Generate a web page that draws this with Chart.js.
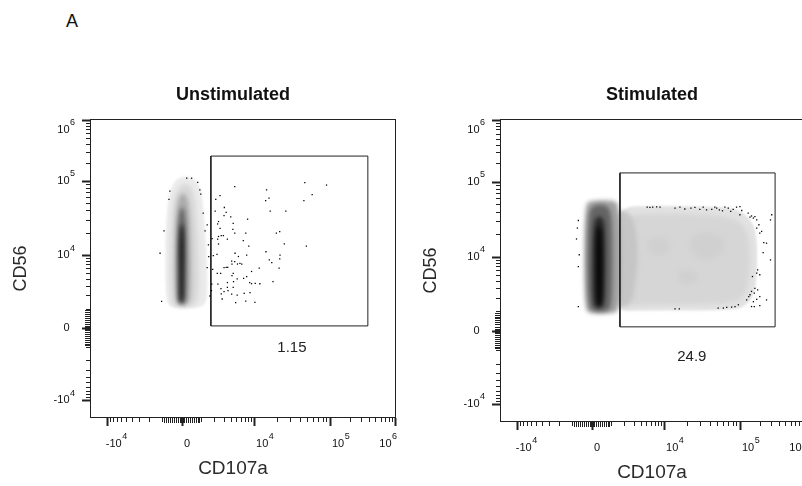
<!DOCTYPE html>
<html>
<head>
<meta charset="utf-8">
<script src="https://cdn.jsdelivr.net/npm/chart.js@4.4.1/dist/chart.umd.min.js"></script>
<style>
  html, body { margin: 0; padding: 0; background: #fff; }
  body { width: 802px; height: 486px; overflow: hidden; position: relative; font-family: "Liberation Sans", Arial, sans-serif; }
  canvas { position: absolute; top: 0; }
  #panelLabel { position: absolute; left: 66px; top: 11px; font-size: 18px; color: #111; }
</style>
</head>
<body>
<div id="panelLabel">A</div>
<canvas id="unstim" width="466" height="486" style="left:0"></canvas>
<canvas id="stim" width="480" height="486" style="left:412px"></canvas>
<script>
// Decade labels and the display channel (0-1000) each one sits at
const decadeValues = [-1e4, 0, 1e4, 1e5, 1e6];
const decadeBase = ['-10', '0', '10', '10', '10'];
const decadeExp = ['4', '', '4', '5', '6'];
const xDecadeChannels = [57, 301, 536, 784, 997];
const yDecadeChannels = [60, 301, 545, 793, 997];

// Single events drawn as dots, [CD107a, CD56] in display channels
const unstimEvents = [
  [316,802],[332,802],[352,788],[359,763],[261,759],[362,749],[258,731],[370,685],[242,626],[376,626],
  [229,551],[234,390],[383,646],[387,579],[383,503],[388,540],
  [473,774],[425,744],[411,731],[577,763],[585,735],[574,727],[702,787],[773,779],[726,747],[699,727],
  [409,692],[439,704],[445,688],[438,677],[460,673],[515,665],[589,692],[640,692],[420,657],[417,649],
  [468,651],[425,634],[467,631],[473,618],[509,618],[609,618],[620,623],[429,610],[420,607],[436,610],
  [449,598],[417,598],[399,600],[420,582],[501,593],[519,575],[635,582],[707,575],[403,543],[415,547],
  [474,551],[512,545],[485,540],[575,556],[621,545],[586,529],[594,520],[620,532],[463,525],[464,515],
  [473,523],[482,515],[490,517],[496,515],[445,504],[438,503],[450,504],[401,497],[416,484],[427,484],
  [468,484],[502,467],[512,473],[464,476],[553,501],[618,501],[528,490],[398,448],[418,448],[449,453],
  [469,456],[481,465],[522,453],[528,449],[540,450],[555,449],[598,456],[428,433],[449,437],[468,437],
  [438,423],[429,415],[451,426],[463,414],[481,411],[504,417],[523,419],[476,386],[509,391],[539,387],
  [432,398],[392,408],[397,426]
];
const stimEvents = [
  [481,709],[490,708],[499,709],[512,710],[523,709],[572,706],[588,709],[604,703],[624,706],[637,708],
  [653,702],[664,709],[675,700],[692,702],[702,709],[708,706],[717,700],[727,697],[735,709],[746,706],
  [754,695],[762,702],[773,709],[784,711],[790,698],
  [784,684],[811,689],[817,676],[822,680],[828,673],[833,678],[839,667],[846,651],[839,640],[855,629],
  [849,623],[862,592],[871,590],[860,559],[884,535],[888,684],[884,667],[842,502],[839,491],[849,486],
  [825,480],[833,441],[842,436],[822,431],[831,425],[817,420],[849,414],[839,405],[813,414],[806,403],
  [828,397],[849,384],[871,403],[822,381],[831,381],
  [572,373],[586,373],[713,376],[730,376],[741,378],[757,379],[768,381],[779,387],
  [256,665],[253,640],[250,604],[259,552],[256,513],[256,381]
];

// Rectangle gates [x1, y1, x2, y2] and the percentage shown under each
const unstimGate = [395, 308, 908, 876];
const stimGate = [392, 314, 899, 822];
const unstimFreq = '1.15';
const stimFreq = '24.9';

// Density contours (outer to inner) and the relative density of each band
const unstimContours = [
  [[305,809],[332,805],[354,787],[365,752],[372,685],[379,584],[383,495],[383,417],[379,386],[365,370],
   [305,366],[264,370],[250,389],[246,473],[246,584],[250,685],[259,752],[278,796]],
  [[303,785],[327,779],[340,752],[348,685],[354,584],[357,473],[354,395],[338,375],[299,370],[272,375],
   [264,395],[261,495],[264,607],[269,696],[281,757]],
  [[301,752],[316,746],[325,696],[329,607],[331,495],[329,395],[316,378],[294,376],[281,389],[278,495],
   [279,607],[283,696],[290,740]],
  [[299,707],[309,696],[314,629],[315,529],[314,395],[305,381],[292,384],[286,395],[285,529],[287,629],
   [292,690]],
  [[299,651],[305,640],[307,573],[306,484],[305,389],[298,386],[293,395],[293,484],[292,573],[295,634]]
];
const unstimLevels = [0.04, 0.12, 0.31, 0.6, 0.93];

const stimContours = [
  [[359,711],[523,713],[686,711],[762,706],[806,684],[833,645],[841,579],[839,469],[828,414],[800,381],
   [762,370],[632,368],[468,368],[359,365]],
  [[381,684],[523,689],[686,684],[773,673],[811,629],[819,535],[811,436],[773,392],[632,387],[468,387],
   [381,383]],
  [[370,700],[430,695],[452,590],[446,480],[430,381],[370,376]],
  [[626,617],[686,629],[730,607],[735,563],[697,535],[642,541],[615,574]],
  [[485,607],[539,612],[561,585],[544,551],[501,546],[479,574]],
  [[577,497],[626,502],[653,480],[632,458],[588,456]],
  [[294,731],[370,733],[390,717],[394,535],[390,370],[370,357],[294,357],[278,370],[274,535],[278,717]],
  [[305,717],[348,717],[365,689],[368,535],[365,381],[348,365],[305,365],[289,381],[285,535],[289,689]],
  [[314,678],[335,678],[343,645],[344,535],[342,392],[332,376],[314,376],[303,392],[302,535],[305,645]],
  [[319,645],[331,645],[334,535],[333,392],[324,381],[316,392],[314,535],[315,623]]
];
const stimLevels = [0.08, 0.13, 0.2, 0.155, 0.155, 0.155, 0.35, 0.6, 0.85, 1.0];

// biexponential-style placement of minor ticks between the labelled decades
const COFACTOR = 1250;
function toChannel(v, chans) {
  const ts = decadeValues.map(d => Math.asinh(d / COFACTOR));
  const t = Math.asinh(v / COFACTOR);
  let i = 0;
  while (i < ts.length - 2 && t > ts[i + 1]) i++;
  const f = (t - ts[i]) / (ts[i + 1] - ts[i]);
  return chans[i] + f * (chans[i + 1] - chans[i]);
}

const minorTicks = [];
for (let d = 1; d <= 5; d++) {
  for (let k = 1; k <= 9; k++) {
    const v = k * Math.pow(10, d);
    if (!decadeValues.includes(v)) minorTicks.push(v);
    if (-v > -1e4) minorTicks.push(-v);
  }
}

function greyFor(d) {
  const g = Math.round(245 - 240 * d);
  return `rgb(${g},${g},${g})`;
}

const FONT = '"Liberation Sans", Arial, sans-serif';
const plots = {};

function smoothPath(ctx, pts) {
  const n = pts.length;
  const mid = (a, b) => [(a[0] + b[0]) / 2, (a[1] + b[1]) / 2];
  const start = mid(pts[n - 1], pts[0]);
  ctx.moveTo(start[0], start[1]);
  for (let i = 0; i < n; i++) {
    const m = mid(pts[i], pts[(i + 1) % n]);
    ctx.quadraticCurveTo(pts[i][0], pts[i][1], m[0], m[1]);
  }
  ctx.closePath();
}

const flowPlot = {
  id: 'flowPlot',
  beforeDatasetsDraw(chart) {
    const spec = plots[chart.canvas.id];
    const { ctx, chartArea: a, scales: { x, y } } = chart;
    ctx.save();
    ctx.beginPath();
    ctx.rect(a.left, a.top, a.width, a.height);
    ctx.clip();
    spec.contours.forEach((path, i) => {
      const pts = path.map(([vx, vy]) => [x.getPixelForValue(vx), y.getPixelForValue(vy)]);
      ctx.filter = i === 0 ? 'blur(1px)' : 'blur(2px)';
      ctx.fillStyle = greyFor(spec.levels[i]);
      ctx.beginPath();
      smoothPath(ctx, pts);
      ctx.fill();
    });
    ctx.restore();
  },
  afterDraw(chart) {
    const spec = plots[chart.canvas.id];
    const { ctx, chartArea: a, scales: { x, y } } = chart;
    ctx.save();
    ctx.strokeStyle = '#222';
    ctx.fillStyle = '#111';

    // frame
    ctx.lineWidth = 1;
    ctx.strokeRect(a.left + 0.5, a.top + 0.5, a.width - 1, a.height - 1);

    // ticks
    const tickLen = v => (decadeValues.includes(v) ? 8 : Math.abs(v) < 1000 ? 5 : 4);
    const all = decadeValues.concat(minorTicks);
    all.forEach(v => {
      ctx.lineWidth = decadeValues.includes(v) ? 2 : 1;
      const px = Math.round(x.getPixelForValue(toChannel(v, xDecadeChannels))) + 0.5;
      ctx.beginPath();
      ctx.moveTo(px, a.bottom);
      ctx.lineTo(px, a.bottom + tickLen(v));
      ctx.stroke();
      const py = Math.round(y.getPixelForValue(toChannel(v, yDecadeChannels))) + 0.5;
      ctx.beginPath();
      ctx.moveTo(a.left, py);
      ctx.lineTo(a.left - tickLen(v), py);
      ctx.stroke();
    });

    // decade labels: base number with a raised exponent
    const baseFont = `11px ${FONT}`, supFont = `9px ${FONT}`;
    ctx.textBaseline = 'middle';
    ctx.textAlign = 'left';
    ctx.font = supFont;
    const supW = ctx.measureText('4').width;
    decadeValues.forEach((v, i) => {
      const base = decadeBase[i], exp = decadeExp[i];
      ctx.font = baseFont;
      const bw = ctx.measureText(base).width;
      const dash = base.startsWith('-') ? ctx.measureText('-').width : 0;
      ctx.font = supFont;
      const ew = exp ? ctx.measureText(exp).width + 0.5 : 0;

      // x axis
      const px = x.getPixelForValue(xDecadeChannels[i]);
      let lx = px + 2 - dash;
      if (lx + bw + ew > a.right + 1) lx = a.right + 1 - bw - ew;
      const ly = a.bottom + 26;
      ctx.font = baseFont;
      ctx.fillText(base, lx, ly);
      ctx.font = supFont;
      if (exp) ctx.fillText(exp, lx + bw + 0.5, ly - 7);

      // y axis
      const py = Math.max(y.getPixelForValue(yDecadeChannels[i]), a.top + 11);
      const rx = a.left - 15 - supW - 0.5;
      ctx.font = baseFont;
      ctx.fillText(base, rx - bw, py);
      ctx.font = supFont;
      if (exp) ctx.fillText(exp, rx + 0.5, py - 7);
    });

    // gate frequency
    ctx.font = `15px ${FONT}`;
    ctx.textAlign = 'center';
    ctx.fillStyle = '#222';
    ctx.fillText(spec.freq, x.getPixelForValue(spec.freqAt[0]), y.getPixelForValue(spec.freqAt[1]));

    // titles
    ctx.fillStyle = '#111';
    ctx.textBaseline = 'alphabetic';
    ctx.font = `bold 18px ${FONT}`;
    ctx.fillText(spec.title, chart.width / 2, 100);
    ctx.font = `19px ${FONT}`;
    ctx.fillStyle = '#2a2a2a';
    ctx.fillText('CD107a', chart.width / 2, a.bottom + 56);
    ctx.translate(a.left - 69, (a.top + a.bottom) / 2);
    ctx.rotate(-Math.PI / 2);
    ctx.font = `18px ${FONT}`;
    ctx.textBaseline = 'middle';
    ctx.fillText('CD56', 0, 0);
    ctx.restore();
  }
};

function makePlot(id, spec) {
  plots[id] = spec;
  const [gx1, gy1, gx2, gy2] = spec.gate;
  return new Chart(document.getElementById(id), {
    type: 'scatter',
    data: {
      datasets: [
        {
          data: spec.events.map(([x, y]) => ({ x, y })),
          pointStyle: 'rect',
          pointRadius: 0.9,
          backgroundColor: '#000',
          borderWidth: 0
        },
        {
          data: [{ x: gx1, y: gy1 }, { x: gx2, y: gy1 }, { x: gx2, y: gy2 }, { x: gx1, y: gy2 }, { x: gx1, y: gy1 }],
          showLine: true,
          borderColor: '#222',
          borderWidth: 1,
          pointRadius: 0,
          fill: false
        }
      ]
    },
    options: {
      responsive: false,
      animation: false,
      devicePixelRatio: 1,
      layout: { padding: spec.padding },
      plugins: { legend: { display: false }, tooltip: { enabled: false } },
      scales: {
        x: { type: 'linear', min: 0, max: 1000, display: false },
        y: { type: 'linear', min: 0, max: 1000, display: false }
      }
    },
    plugins: [flowPlot]
  });
}

makePlot('unstim', {
  title: 'Unstimulated',
  events: unstimEvents,
  gate: unstimGate,
  freq: unstimFreq,
  freqAt: [660, 234],
  contours: unstimContours,
  levels: unstimLevels,
  padding: { left: 90, right: 70, top: 119, bottom: 68 }
});

makePlot('stim', {
  title: 'Stimulated',
  events: stimEvents,
  gate: stimGate,
  freq: stimFreq,
  freqAt: [627, 215],
  contours: stimContours,
  levels: stimLevels,
  padding: { left: 88, right: 86, top: 119, bottom: 64 }
});
</script>
</body>
</html>
